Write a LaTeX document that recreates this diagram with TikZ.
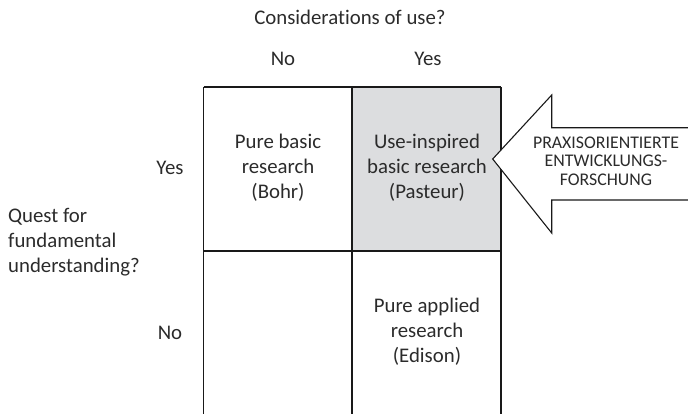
\documentclass[tikz,border=0pt]{standalone}
\usepackage{fontspec}
\setmainfont{Carlito}[Ligatures=NoCommon]
\definecolor{ink}{HTML}{2B2B2B}
\definecolor{cellgray}{HTML}{DCDDDF}
\begin{document}
\begin{tikzpicture}[x=1pt,y=-1pt,
  lbl/.style={text=ink,font=\fontsize{20.8}{25}\selectfont,inner sep=0pt},
  celltext/.style={lbl,align=center},
  arrowtext/.style={text=ink,font=\fontsize{17.8}{18.6}\selectfont,align=center,inner sep=0pt},
  gridline/.style={draw=black!90,line width=1.4pt},
  bigarrow/.style={draw=black!90,line width=1.1pt,fill=white}]
\useasboundingbox (0,0) rectangle (688,413);
\clip (0,0) rectangle (688,413);

% shaded cell
\fill[cellgray] (352,87) rectangle (501,251);

% grid, open at the bottom
\coordinate (g00) at (203.5,87);
\coordinate (g10) at (352,87);
\coordinate (g20) at (501,87);
\coordinate (g01) at (203.5,251);
\coordinate (g21) at (501,251);
\coordinate (b0) at (203.5,415);
\coordinate (b1) at (352,415);
\coordinate (b2) at (501,415);
\draw[gridline] (g00) -- (g20);
\draw[gridline] (g01) -- (g21);
\draw[gridline] (g00) -- (b0);
\draw[gridline] (g10) -- (b1);
\draw[gridline] (g20) -- (b2);

% axis labels
\node[lbl] (cons) at (350,17) {Considerations of use?};
\node[lbl] (colno) at (283,59) {No};
\node[lbl] (colyes) at (428,59) {Yes};
\node[lbl] (rowyes) at (170,168) {Yes};
\node[lbl] (rowno) at (170,333) {No};
\node[lbl,anchor=west,align=left] (quest) at (8,242) {Quest for\\fundamental\\understanding?};

% cell contents
\node[celltext] (bohr) at (278,168) {Pure basic\\research\\(Bohr)};
\node[celltext] (pasteur) at (427,168) {Use-inspired\\basic research\\(Pasteur)};
\node[celltext] (edison) at (427,332) {Pure applied\\research\\(Edison)};

% block arrow pointing at the shaded cell
\coordinate (tip) at (492.7,159);
\draw[bigarrow] (692,127.7) -- (551.7,127.7) -- (551.7,95) -- (tip)
  -- (551.7,233) -- (551.7,200) -- (692,200);
\node[arrowtext] (praxis) at (606,161) {PRAXISORIENTIERTE\\ENTWICKLUNGS-\\FORSCHUNG};
\end{tikzpicture}
\end{document}
